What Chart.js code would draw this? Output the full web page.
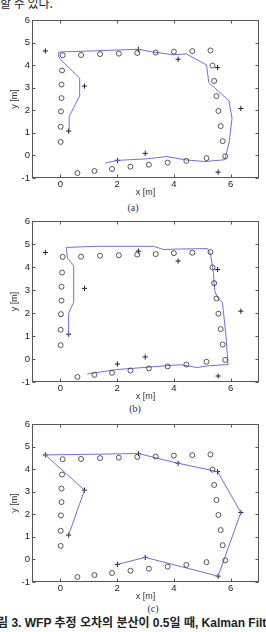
<!DOCTYPE html>
<html>
<head>
<meta charset="utf-8">
<script src="https://cdn.jsdelivr.net/npm/chart.js@4/dist/chart.umd.min.js"></script>
<style>
  html, body { margin:0; padding:0; background:#fff; width:266px; height:632px; overflow:hidden; position:relative; }
  canvas { position:absolute; left:0; }
  .txt { position:absolute; white-space:nowrap; }
  .sub { font-family:"Liberation Serif","DejaVu Serif",serif; font-size:10px; color:#333; line-height:10px; transform:translateX(-50%); }
</style>
</head>
<body>
<div class="txt" style="left:0px; top:-3px; font-family:'Noto Sans CJK KR'; font-size:12px; line-height:12px; color:#222;">할 수 있다.</div>

<canvas id="cA" width="266" height="190" style="top:8px"></canvas>
<div class="txt sub" style="left:133px; top:203px;">(a)</div>

<canvas id="cB" width="266" height="193" style="top:209px"></canvas>
<div class="txt sub" style="left:135px; top:404px;">(b)</div>

<canvas id="cC" width="266" height="190" style="top:412px"></canvas>
<div class="txt sub" style="left:153px; top:604px;">(c)</div>

<div class="txt" style="left:-14px; top:616px; font-family:'Liberation Sans','Noto Sans CJK KR',sans-serif; font-weight:bold; font-size:12px; line-height:14px; color:#222;">그림 3. WFP 추정 오차의 분산이 0.5일 때, Kalman Filter</div>

<script>
// Reference (fingerprint) points - open circles
const refX = [0.01,0.01,0.02,0.04,0.04,0.06,0.08,0.73,1.40,2.06,2.71,3.36,4.00,4.65,5.29,5.36,5.42,5.50,5.57,5.65,5.72,5.81,5.15,4.44,3.78,3.12,2.47,1.82,1.20,0.60];
const refY = [0.60,1.27,1.95,2.54,3.14,3.76,4.44,4.45,4.49,4.51,4.54,4.56,4.60,4.62,4.65,3.98,3.30,2.63,1.97,1.30,0.63,-0.04,-0.12,-0.24,-0.32,-0.41,-0.50,-0.60,-0.69,-0.78];

// WFP estimates - plus markers (also the raw path in (c))
const estX = [0.29,0.85,-0.53,2.75,4.15,5.54,6.36,5.56,2.99,2.01];
const estY = [1.08,3.07,4.63,4.69,4.26,3.89,2.08,-0.74,0.09,-0.22];

// Filtered path (a)
const pathAX = [0.31,0.31,0.68,0.68,0.00,-0.08,-0.06,2.75,3.27,3.98,4.44,5.15,5.23,5.94,6.05,5.95,5.80,5.09,4.44,3.74,3.04,2.01,1.58];
const pathAY = [1.10,1.72,2.64,3.42,4.26,4.42,4.58,4.70,4.58,4.46,4.50,4.01,3.23,2.42,1.65,0.60,-0.19,-0.27,-0.20,-0.05,-0.15,-0.22,-0.34];

// Filtered path (b)
const pathBX = [0.29,0.29,0.35,0.47,0.47,0.25,0.21,1.28,2.81,3.28,3.64,4.11,5.18,5.29,5.39,5.44,5.53,5.71,5.83,5.91,5.18,4.82,4.23,3.76,3.05,1.97,0.95];
const pathBY = [1.06,1.96,2.17,2.46,4.06,4.39,4.85,4.90,4.90,4.90,4.76,4.78,4.80,4.57,3.77,2.97,2.68,2.46,1.09,-0.24,-0.30,-0.37,-0.25,-0.29,-0.36,-0.46,-0.65];

// Path (c) follows the raw estimates
const pathCX = estX;
const pathCY = estY;

const xTicks = [0,2,4,6];
const yTicks = [-1,0,1,2,3,4,5,6];
const xLabel = 'x [m]';
const yLabel = 'y [m]';

const zip = (xs, ys) => xs.map((x,i) => ({x:x, y:ys[i]}));

const frameTicks = {
  id:'frameTicks',
  afterDraw(chart){
    const {ctx, chartArea:a, scales:{x, y}} = chart;
    ctx.save();
    ctx.strokeStyle = '#555';
    ctx.lineWidth = 1;
    const L = Math.round(a.left)+0.5, R = Math.round(a.right)-0.5, T = Math.round(a.top)+0.5, B = Math.round(a.bottom)-0.5;
    ctx.strokeRect(L, T, R-L, B-T);
    ctx.beginPath();
    x.ticks.forEach(t => {
      const px = Math.round(x.getPixelForValue(t.value))+0.5;
      ctx.moveTo(px, B); ctx.lineTo(px, B-3);
      ctx.moveTo(px, T); ctx.lineTo(px, T+3);
    });
    y.ticks.forEach(t => {
      const py = Math.round(y.getPixelForValue(t.value))+0.5;
      ctx.moveTo(L, py); ctx.lineTo(L+3, py);
      ctx.moveTo(R, py); ctx.lineTo(R-3, py);
    });
    ctx.stroke();
    ctx.restore();
  }
};

function makeChart(id, pX, pY, padTop, xH, rightPad){
  new Chart(document.getElementById(id), {
    type:'scatter',
    data:{
      datasets:[
        { data: zip(refX, refY), pointStyle:'circle', pointRadius:2.5, borderColor:'#444', borderWidth:0.9, backgroundColor:'rgba(0,0,0,0)', showLine:false },
        { data: zip(pX, pY), showLine:true, borderColor:'rgb(110,110,232)', borderWidth:1, pointRadius:0, tension:0, fill:false },
        { data: zip(estX, estY), pointStyle:'cross', pointRadius:2.6, borderColor:'#222', borderWidth:1, showLine:false }
      ]
    },
    options:{
      responsive:false, animation:false, devicePixelRatio:1,
      layout:{ padding:{ top:padTop, right:rightPad, left:0, bottom:0 } },
      plugins:{ legend:{display:false}, tooltip:{enabled:false} },
      scales:{
        x:{
          type:'linear', min:-1, max:7,
          afterBuildTicks: s => { s.ticks = xTicks.map(v => ({value:v})); },
          afterFit: s => { s.height = xH; },
          grid:{ display:false, drawTicks:false }, border:{ display:false },
          ticks:{ padding:1, color:'#222', font:{ family:'Liberation Sans', size:9.5 } },
          title:{ display:true, text:xLabel, color:'#333', padding:{top:0,bottom:0}, font:{ family:'Liberation Sans', size:9 } }
        },
        y:{
          type:'linear', min:-1, max:6,
          afterBuildTicks: s => { s.ticks = yTicks.map(v => ({value:v})); },
          afterFit: s => { s.width = 32; },
          grid:{ display:false, drawTicks:false }, border:{ display:false },
          ticks:{ padding:2, color:'#222', font:{ family:'Liberation Sans', size:9.5 } },
          title:{ display:true, text:yLabel, color:'#333', padding:{top:9.6,bottom:0}, font:{ family:'Liberation Sans', size:9 } }
        }
      }
    },
    plugins:[frameTicks]
  });
}

makeChart('cA', pathAX, pathAY, 12, 20, 7);
makeChart('cB', pathBX, pathBY, 12, 20, 7);
makeChart('cC', pathCX, pathCY, 12, 20, 7);
</script>
</body>
</html>
